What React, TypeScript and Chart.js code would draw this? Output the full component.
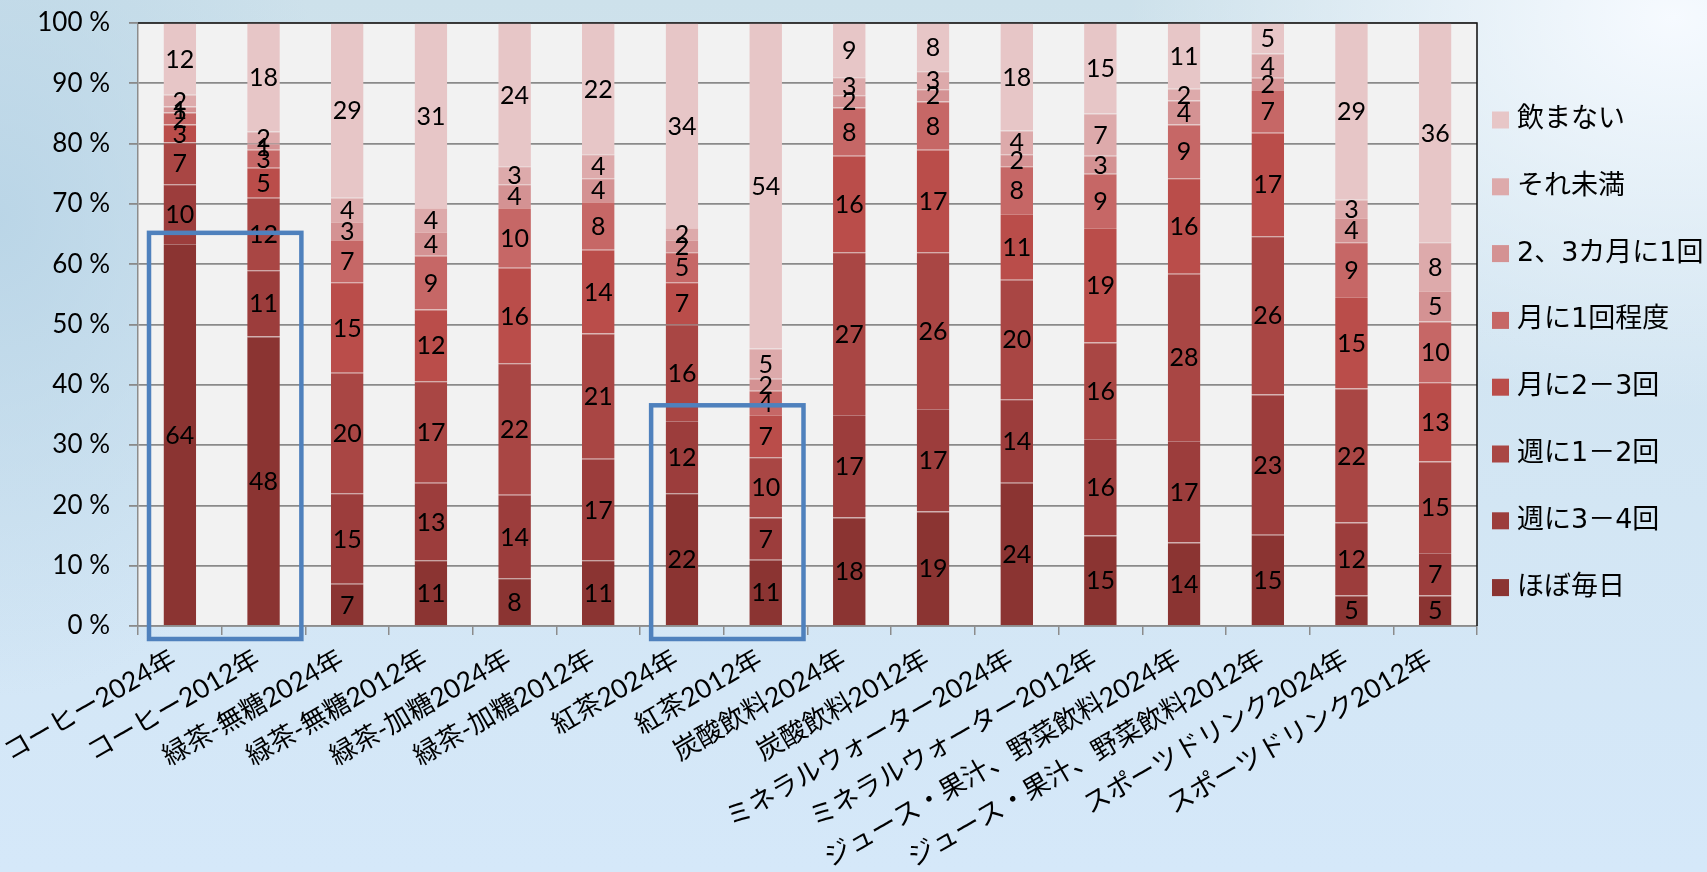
import React, { useEffect, useRef } from 'react';
import { Chart, registerables } from 'chart.js';

Chart.register(...registerables);

// ---- data (bottom segment first) ----
const categories = [
  'コーヒー2024年', 'コーヒー2012年', '緑茶-無糖2024年', '緑茶-無糖2012年',
  '緑茶-加糖2024年', '緑茶-加糖2012年', '紅茶2024年', '紅茶2012年',
  '炭酸飲料2024年', '炭酸飲料2012年', 'ミネラルウォーター2024年', 'ミネラルウォーター2012年',
  'ジュース・果汁、野菜飲料2024年', 'ジュース・果汁、野菜飲料2012年', 'スポーツドリンク2024年', 'スポーツドリンク2012年',
];

const seriesNames = ['ほぼ毎日', '週に3－4回', '週に1－2回', '月に2－3回', '月に1回程度', '2、3カ月に1回', 'それ未満', '飲まない'];

const daily = [64, 48, 7, 11, 8, 11, 22, 11, 18, 19, 24, 15, 14, 15, 5, 5];
const week34 = [10, 11, 15, 13, 14, 17, 12, 7, 17, 17, 14, 16, 17, 23, 12, 7];
const week12 = [7, 12, 20, 17, 22, 21, 16, 10, 27, 26, 20, 16, 28, 26, 22, 15];
const month23 = [3, 5, 15, 12, 16, 14, 7, 7, 16, 17, 11, 19, 16, 17, 15, 13];
const month1 = [2, 3, 7, 9, 10, 8, 5, 4, 8, 8, 8, 9, 9, 7, 9, 10];
const months23 = [1, 1, 3, 4, 4, 4, 2, 2, 2, 2, 2, 3, 4, 2, 4, 5];
const lessThan = [2, 2, 4, 4, 3, 4, 2, 5, 3, 3, 4, 7, 2, 4, 3, 8];
const never = [12, 18, 29, 31, 24, 22, 34, 54, 9, 8, 18, 15, 11, 5, 29, 36];

const seriesValues = [daily, week34, week12, month23, month1, months23, lessThan, never];

const yTickValues = [0, 10, 20, 30, 40, 50, 60, 70, 80, 90, 100];

// highlighted groups (category index range, top in %)
const highlightBoxes = [
  { from: 0, to: 1, top: 65.2 },
  { from: 6, to: 7, top: 36.6 },
];

// ---- styles ----
const seriesColors = ['#8B3432', '#9C3D3C', '#A94644', '#BA4D4A', '#C66766', '#D49293', '#DDAAAB', '#E7C6C7'];
const latinFont = "Lato, 'Noto Sans CJK JP', sans-serif";
const legendFont = "'DejaVu Sans', 'Noto Sans CJK JP', sans-serif";

function lighten(hex: string, t = 0.3) {
  const n = parseInt(hex.slice(1), 16);
  const r = (n >> 16) & 255, g = (n >> 8) & 255, b = n & 255;
  const f = (c: number) => Math.round(c + (255 - c) * t);
  return `rgb(${f(r)},${f(g)},${f(b)})`;
}

export default function App() {
  const ref = useRef<HTMLCanvasElement>(null);

  useEffect(() => {
    document.body.style.margin = '0';
    const canvas = ref.current;
    if (!canvas) return;

    const totals = categories.map((_, i) => seriesValues.reduce((s, arr) => s + arr[i], 0));

    const datasets = seriesNames.map((name, k) => ({
      label: name,
      data: seriesValues[k].map((v, i) => (v / totals[i]) * 100),
      backgroundColor: seriesColors[k],
      borderColor: lighten(seriesColors[k]),
      borderWidth: { top: 1, right: 0, bottom: 0, left: 0 },
      borderSkipped: 'start' as const,
      barPercentage: 0.39,
      categoryPercentage: 1,
    }));

    const plotBg = {
      id: 'plotBg',
      beforeDraw(chart: any) {
        const { ctx, chartArea: a } = chart;
        ctx.save();
        ctx.fillStyle = '#F2F2F2';
        ctx.fillRect(a.left, a.top, a.right - a.left, a.bottom - a.top);
        ctx.restore();
      },
    };

    const valueLabels = {
      id: 'valueLabels',
      afterDatasetsDraw(chart: any) {
        const { ctx } = chart;
        ctx.save();
        ctx.font = `25px ${latinFont}`;
        ctx.fillStyle = '#000';
        ctx.textAlign = 'center';
        ctx.textBaseline = 'middle';
        seriesValues.forEach((arr, k) => {
          const meta = chart.getDatasetMeta(k);
          meta.data.forEach((bar: any, i: number) => {
            const { x, y, base } = bar.getProps(['x', 'y', 'base'], true);
            ctx.fillText(String(arr[i]), x, (y + base) / 2 + 1);
          });
        });
        ctx.restore();
      },
    };

    const overlay = {
      id: 'overlay',
      afterDraw(chart: any) {
        const { ctx, chartArea: a, scales } = chart;
        const xs = scales.x, ys = scales.y;
        ctx.save();
        // frame top & right
        ctx.strokeStyle = '#1a1a1a';
        ctx.lineWidth = 1.6;
        ctx.beginPath();
        ctx.moveTo(a.left, a.top);
        ctx.lineTo(a.right, a.top);
        ctx.lineTo(a.right, a.bottom);
        ctx.stroke();

        // highlight boxes
        const catW = (a.right - a.left) / categories.length;
        ctx.strokeStyle = '#4F81BD';
        ctx.lineWidth = 4.5;
        highlightBoxes.forEach((b) => {
          const x1 = xs.getPixelForValue(b.from) - catW / 2 + 11;
          const x2 = xs.getPixelForValue(b.to) + catW / 2 - 4;
          const y1 = ys.getPixelForValue(b.top);
          const y2 = a.bottom + 13;
          ctx.strokeRect(x1, y1, x2 - x1, y2 - y1);
        });

        // legend (reverse order, top = last series)
        ctx.font = `27px ${legendFont}`;
        ctx.textAlign = 'left';
        ctx.textBaseline = 'middle';
        const n = seriesNames.length;
        for (let j = 0; j < n; j++) {
          const k = n - 1 - j;
          const cy = a.top + 97 + j * 66.8;
          ctx.fillStyle = seriesColors[k];
          ctx.fillRect(a.right + 15, cy - 8.5, 17, 17);
          ctx.fillStyle = '#000';
          ctx.fillText(seriesNames[k], a.right + 40, cy);
        }
        ctx.restore();
      },
    };

    const chart = new Chart(canvas, {
      type: 'bar',
      data: { labels: categories, datasets: datasets as any },
      options: {
        responsive: false,
        animation: false,
        devicePixelRatio: 1,
        layout: { padding: { top: 23, right: 230, bottom: 0, left: 0 } },
        plugins: {
          legend: { display: false },
          tooltip: { enabled: false },
        },
        scales: {
          x: {
            stacked: true,
            afterFit(scale: any) {
              scale.height = 246;
              scale.paddingLeft = 0;
              scale.paddingRight = 0;
            },
            grid: {
              display: true,
              drawOnChartArea: false,
              drawTicks: true,
              tickLength: 9,
              color: '#8c8c8c',
              lineWidth: 1.5,
              offset: true,
            },
            border: { display: true, color: '#8c8c8c', width: 1.5 },
            ticks: {
              autoSkip: false,
              minRotation: 30,
              maxRotation: 30,
              padding: 8,
              labelOffset: -6,
              color: '#000',
              font: { family: latinFont, size: 26.5 },
            },
          },
          y: {
            stacked: true,
            min: 0,
            max: 100,
            afterFit(scale: any) {
              scale.width = 138;
              scale.paddingTop = 0;
              scale.paddingBottom = 0;
            },
            afterBuildTicks(scale: any) { scale.ticks = yTickValues.map((v) => ({ value: v })); },
            grid: { color: '#8a8a8a', lineWidth: 1.8, tickLength: 9, drawTicks: true },
            border: { display: true, color: '#8c8c8c', width: 1.5 },
            ticks: {
              padding: 19,
              color: '#000',
              font: { family: latinFont, size: 26 },
              callback: (v: any) => `${v} %`,
            },
          },
        },
      },
      plugins: [plotBg, valueLabels, overlay],
    });

    return () => chart.destroy();
  }, []);

  return (
    <div
      style={{
        position: 'fixed',
        left: 0,
        top: 0,
        width: 1707,
        height: 872,
        overflow: 'hidden',
        background:
          'radial-gradient(ellipse 32% 45% at 98% 2%, rgba(246,250,255,1) 0%, rgba(246,250,255,0) 100%),' +
          'radial-gradient(ellipse 20% 55% at 0% 25%, rgba(184,212,230,0.9) 0%, rgba(184,212,230,0) 100%),' +
          'linear-gradient(180deg, #cde1eb 0%, #d2e5f2 40%, #d5e8f9 100%)',
      }}
    >
      <canvas ref={ref} width={1707} height={872} style={{ display: 'block' }} />
    </div>
  );
}
